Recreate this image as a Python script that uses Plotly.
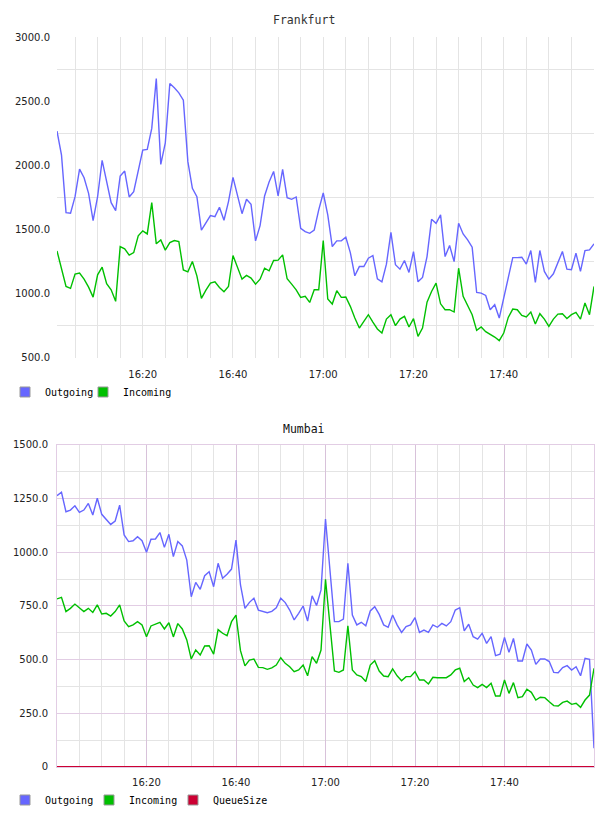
import pandas as pd
import plotly.graph_objects as go

# ---------------- data ----------------
fra_outgoing = [
    2267, 2080, 1632, 1627, 1756, 1971, 1904, 1782, 1570, 1756,
    2039, 1886, 1710, 1648, 1917, 1956, 1754, 1795, 1951, 2119,
    2125, 2288, 2676, 2008, 2176, 2637, 2604, 2565, 2508, 2029,
    1821, 1756, 1495, 1549, 1609, 1601, 1674, 1573, 1718, 1907,
    1769, 1624, 1736, 1697, 1412, 1531, 1762, 1870, 1953, 1762,
    1969, 1749, 1736, 1754, 1510, 1484, 1471, 1497, 1653, 1785,
    1614, 1368, 1412, 1412, 1440, 1321, 1140, 1212, 1212, 1277,
    1298, 1117, 1093, 1231, 1479, 1226, 1192, 1259, 1166, 1329,
    1093, 1127, 1290, 1580, 1549, 1614, 1290, 1376, 1251, 1549,
    1466, 1420, 1363, 1010, 1005, 987, 876, 915, 811, 966,
    1135, 1282, 1282, 1285, 1231, 1337, 1088, 1337, 1174, 1114,
    1156, 1244, 1329, 1192, 1187, 1316, 1174, 1337, 1342, 1389,
]
fra_incoming = [
    1334, 1186, 1057, 1042, 1153, 1161, 1114, 1052, 974, 1148,
    1207, 1078, 1031, 941, 1368, 1350, 1301, 1321, 1451, 1490,
    1466, 1710, 1389, 1420, 1340, 1399, 1415, 1407, 1186, 1171,
    1251, 1140, 964, 1029, 1083, 1093, 1049, 1016, 1057, 1298,
    1207, 1114, 1143, 1122, 1075, 1114, 1199, 1179, 1259, 1262,
    1303, 1117, 1075, 1031, 972, 980, 933, 1031, 1031, 1415,
    959, 920, 1024, 972, 975, 902, 811, 733, 785, 837,
    780, 726, 694, 803, 837, 752, 803, 824, 741, 806,
    668, 733, 935, 1018, 1083, 922, 876, 876, 858, 1199,
    980, 902, 837, 715, 741, 705, 686, 663, 635, 694,
    816, 881, 876, 832, 819, 858, 764, 845, 803, 746,
    803, 842, 845, 808, 837, 855, 803, 928, 837, 1057,
]
mum_outgoing = [
    1264, 1280, 1189, 1197, 1217, 1186, 1197, 1228, 1174, 1252,
    1177, 1155, 1130, 1146, 1220, 1081, 1050, 1054, 1073, 1054,
    1000, 1061, 1062, 1092, 1023, 1084, 980, 1050, 1030, 964,
    793, 860, 828, 891, 910, 840, 949, 879, 898, 922,
    1057, 848, 739, 767, 786, 731, 724, 719, 725, 742,
    786, 766, 731, 685, 716, 750, 680, 797, 752, 825,
    1155, 916, 677, 677, 689, 949, 708, 662, 674, 658,
    727, 747, 711, 662, 651, 708, 662, 627, 654, 662,
    696, 627, 638, 627, 662, 651, 669, 657, 677, 731,
    742, 634, 665, 607, 596, 623, 576, 607, 519, 525,
    604, 534, 599, 494, 494, 573, 545, 478, 503, 503,
    491, 441, 439, 463, 472, 452, 467, 425, 506, 502,
    87,
]
mum_incoming = [
    783, 790, 724, 739, 759, 742, 724, 739, 720, 755,
    713, 716, 703, 724, 755, 680, 654, 662, 677, 662,
    607, 657, 665, 674, 643, 672, 606, 668, 643, 592,
    503, 545, 522, 564, 565, 526, 640, 623, 612, 677,
    708, 542, 471, 498, 503, 464, 463, 455, 462, 475,
    509, 483, 467, 444, 452, 475, 425, 514, 483, 545,
    874, 661, 447, 441, 452, 658, 452, 429, 421, 398,
    475, 495, 447, 424, 421, 457, 425, 402, 421, 421,
    444, 405, 405, 387, 418, 416, 416, 416, 429, 452,
    460, 398, 416, 382, 370, 385, 370, 390, 331, 331,
    405, 343, 393, 323, 328, 362, 348, 312, 325, 323,
    304, 286, 284, 301, 307, 292, 297, 278, 312, 335,
    460,
]
mum_queuesize = [
    0, 0, 0, 0, 0, 0, 0, 0, 0, 0, 0, 0, 0, 0, 0, 0, 0, 0, 0, 0,
    0, 0, 0, 0, 0, 0, 0, 0, 0, 0, 0, 0, 0, 0, 0, 0, 0, 0, 0, 0,
    0, 0, 0, 0, 0, 0, 0, 0, 0, 0, 0, 0, 0, 0, 0, 0, 0, 0, 0, 0,
    0, 0, 0, 0, 0, 0, 0, 0, 0, 0, 0, 0, 0, 0, 0, 0, 0, 0, 0, 0,
    0, 0, 0, 0, 0, 0, 0, 0, 0, 0, 0, 0, 0, 0, 0, 0, 0, 0, 0, 0,
    0, 0, 0, 0, 0, 0, 0, 0, 0, 0, 0, 0, 0, 0, 0, 0, 0, 0, 0, 0,
    0,
]

fra_times = pd.date_range("2014-01-01 16:01", periods=len(fra_outgoing), freq="min")
mum_times = pd.date_range("2014-01-01 16:00", periods=len(mum_outgoing), freq="min")

x_tick_vals = ["2014-01-01 16:20", "2014-01-01 16:40", "2014-01-01 17:00",
               "2014-01-01 17:20", "2014-01-01 17:40"]
x_tick_text = ["16:20", "16:40", "17:00", "17:20", "17:40"]

fra_y_vals = [500, 1000, 1500, 2000, 2500, 3000]
fra_y_text = ["500.0", "1000.0", "1500.0", "2000.0", "2500.0", "3000.0"]
fra_y_minor = [750, 1250, 1750, 2250, 2750]

mum_y_vals = [0, 250, 500, 750, 1000, 1250, 1500]
mum_y_text = ["0", "250.0", "500.0", "750.0", "1000.0", "1250.0", "1500.0"]

# ---------------- styles ----------------
C_OUT = "#6666ff"
C_IN = "#00c000"
C_Q = "#cc0033"
GRID = "#e4e4e4"
PURPLE = "#e2cde4"
PURPLE_V = "#d8c2da"
TICKFONT = dict(family="DejaVu Sans", size=10, color="#222222")
MONO = "DejaVu Sans Mono"

fig = go.Figure()

# Frankfurt
fig.add_trace(go.Scatter(x=fra_times, y=fra_outgoing, mode="lines", line=dict(color=C_OUT, width=1.4),
                         xaxis="x", yaxis="y", showlegend=False))
fig.add_trace(go.Scatter(x=fra_times, y=fra_incoming, mode="lines", line=dict(color=C_IN, width=1.4),
                         xaxis="x", yaxis="y", showlegend=False))
# Mumbai
fig.add_trace(go.Scatter(x=mum_times, y=mum_outgoing, mode="lines", line=dict(color=C_OUT, width=1.4),
                         xaxis="x2", yaxis="y2", showlegend=False))
fig.add_trace(go.Scatter(x=mum_times, y=mum_incoming, mode="lines", line=dict(color=C_IN, width=1.4),
                         xaxis="x2", yaxis="y2", showlegend=False))
fig.add_trace(go.Scatter(x=mum_times, y=mum_queuesize, mode="lines", line=dict(color=C_Q, width=2),
                         xaxis="x2", yaxis="y2", showlegend=False, cliponaxis=False))

# legend entries (square swatches), one legend box per entry for exact placement
def swatch(name, color, legend, xa, ya):
    return go.Scatter(x=[None], y=[None], mode="markers", name=name,
                      marker=dict(symbol="square", size=10, color=color,
                                  line=dict(color="#999999", width=1)),
                      xaxis=xa, yaxis=ya, legend=legend, showlegend=True)

fig.add_trace(swatch("Outgoing", C_OUT, "legend", "x", "y"))
fig.add_trace(swatch("Incoming", C_IN, "legend2", "x", "y"))
fig.add_trace(swatch("Outgoing", C_OUT, "legend3", "x2", "y2"))
fig.add_trace(swatch("Incoming", C_IN, "legend4", "x2", "y2"))
fig.add_trace(swatch("QueueSize", C_Q, "legend5", "x2", "y2"))

TOP_DOM = [0.5603, 1.0]
BOT_DOM = [0.0, 0.4411]
W = 608.0


def leg(px_left, y):
    return dict(orientation="h", xref="container", x=px_left / W, xanchor="left",
                y=y, yanchor="middle",
                font=dict(family=MONO, size=10, color="#000000"),
                bgcolor="rgba(0,0,0,0)", itemwidth=30, tracegroupgap=0,
                itemclick=False, itemdoubleclick=False)


fig.update_layout(
    width=608, height=816,
    margin=dict(l=57, r=14, t=37, b=49, autoexpand=False),
    paper_bgcolor="white", plot_bgcolor="white",
    xaxis=dict(domain=[0, 1], anchor="y", type="date",
               range=["2014-01-01 16:01", "2014-01-01 18:00"],
               tickmode="array", tickvals=x_tick_vals, ticktext=x_tick_text,
               showgrid=True, gridcolor=GRID, gridwidth=1,
               minor=dict(dtick=300000, tick0="2014-01-01 16:00", showgrid=True,
                          gridcolor=GRID, gridwidth=1),
               showline=False, zeroline=False, ticks="", tickfont=TICKFONT,
               ticklabelstandoff=9),
    yaxis=dict(domain=TOP_DOM, anchor="x", range=[500, 3000],
               tickmode="array", tickvals=fra_y_vals, ticktext=fra_y_text,
               showgrid=False,
               minor=dict(tickvals=fra_y_minor, showgrid=True, gridcolor=GRID, gridwidth=1),
               showline=False, zeroline=False, ticks="", tickfont=TICKFONT,
               ticklabelstandoff=6),
    xaxis2=dict(domain=[0, 1], anchor="y2", type="date",
                range=["2014-01-01 16:00", "2014-01-01 18:00"],
                tickmode="array", tickvals=x_tick_vals, ticktext=x_tick_text,
                showgrid=True, gridcolor=PURPLE_V, gridwidth=1,
                minor=dict(dtick=300000, tick0="2014-01-01 16:00", showgrid=True,
                           gridcolor=GRID, gridwidth=1),
                showline=True, linecolor=PURPLE, linewidth=1, mirror=True,
                zeroline=False, ticks="", tickfont=TICKFONT, ticklabelstandoff=6),
    yaxis2=dict(domain=BOT_DOM, anchor="x2", range=[0, 1500],
                tickmode="array", tickvals=mum_y_vals, ticktext=mum_y_text,
                showgrid=True, gridcolor=PURPLE, gridwidth=1,
                minor=dict(dtick=125, tick0=0, showgrid=True, gridcolor=GRID, gridwidth=1),
                showline=True, linecolor=PURPLE, linewidth=1, mirror=True,
                zeroline=False, ticks="", tickfont=TICKFONT, ticklabelstandoff=6),
    legend=leg(5, 0.5137),
    legend2=leg(83, 0.5137),
    legend3=leg(5, -0.0452),
    legend4=leg(89, -0.0452),
    legend5=leg(173, -0.0452),
    annotations=[
        dict(text="Frankfurt", xref="paper", yref="paper", x=0.46, y=1.0233,
             xanchor="center", yanchor="middle", showarrow=False,
             font=dict(family=MONO, size=11.5, color="#333333")),
        dict(text="Mumbai", xref="paper", yref="paper", x=0.46, y=0.463,
             xanchor="center", yanchor="middle", showarrow=False,
             font=dict(family=MONO, size=11.5, color="#111111")),
    ],
)

fig.write_html("out.html")
